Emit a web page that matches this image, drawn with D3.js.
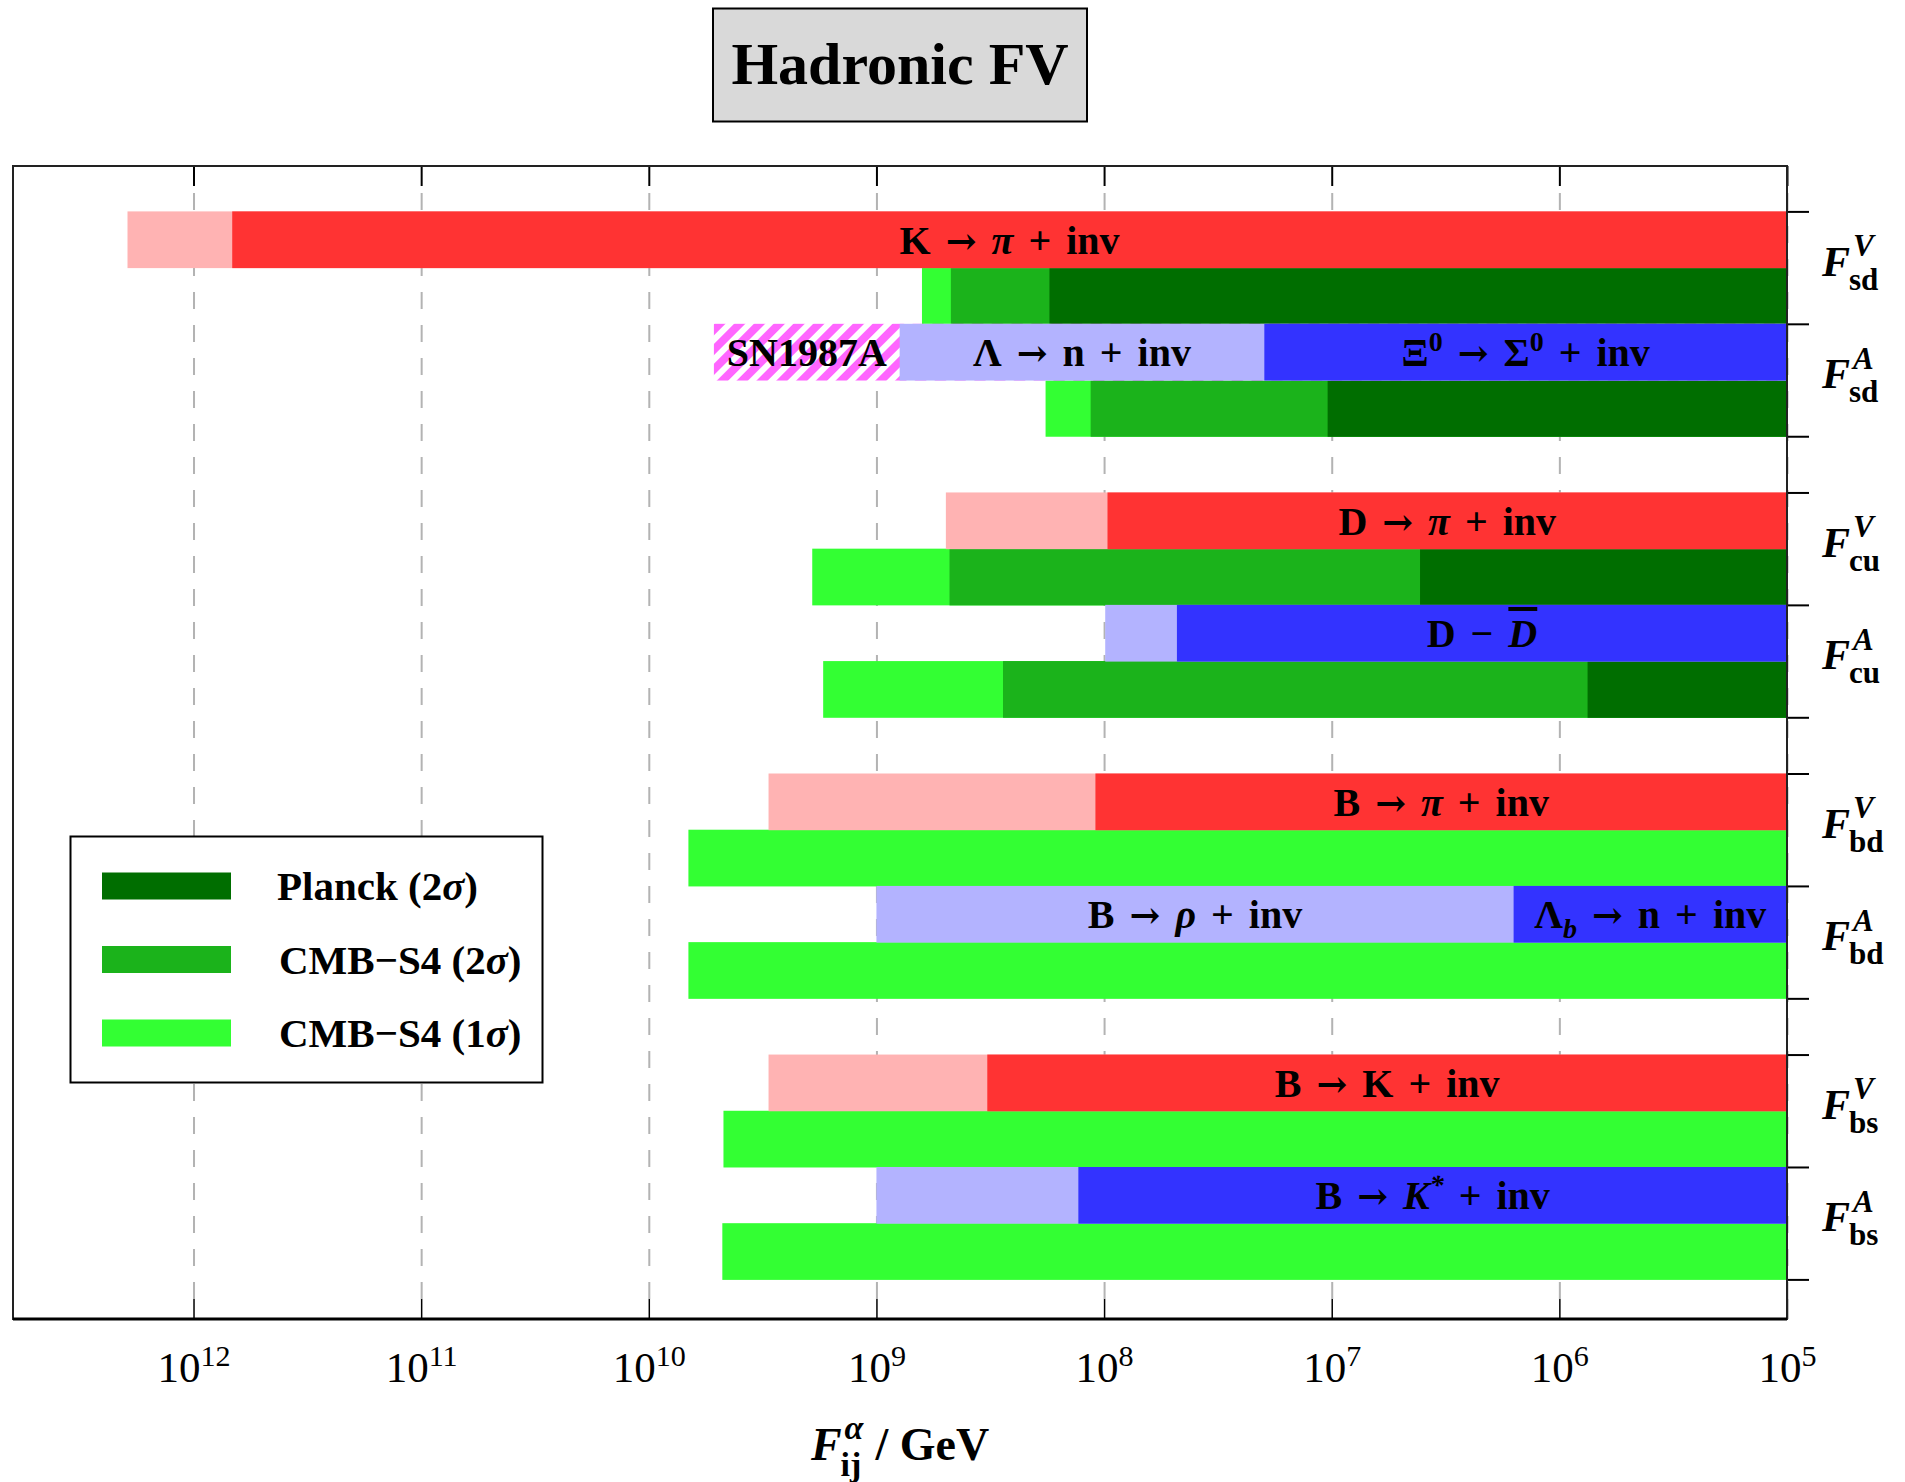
<!DOCTYPE html>
<html>
<head>
<meta charset="utf-8">
<script src="https://cdn.jsdelivr.net/npm/d3@7"></script>
<style>
  body { margin: 0; background: #fff; }
  text { font-family: "Liberation Serif", "Times New Roman", serif; white-space: pre; }
</style>
</head>
<body>
<div id="chart"></div>
<script>
// ---- data (log10 of F / GeV) ----
const LOG_LEFT = 12.793;
const LOG_RIGHT = 5;
const tickPowers = [12, 11, 10, 9, 8, 7, 6, 5];
const flavours = ["sd", "cu", "bd", "bs"];
const chiralities = ["V", "A"];

// experimental / astrophysical lower edges : [coupling, log10 F, tone, label id]
const probeBounds = [
  ["V_sd", 12.29, "redLight", null],
  ["V_sd", 11.83, "red", "kpi"],
  ["A_sd", 9.714, "sn", "sn"],
  ["A_sd", 8.898, "blueLight", "lamn"],
  ["A_sd", 7.296, "blue", "xisig"],
  ["V_cu", 8.695, "redLight", null],
  ["V_cu", 7.985, "red", "dpi"],
  ["A_cu", 7.995, "blueLight", null],
  ["A_cu", 7.68, "blue", "ddbar"],
  ["V_bd", 9.474, "redLight", null],
  ["V_bd", 8.038, "red", "bpi"],
  ["A_bd", 9.0, "blueLight", "brho"],
  ["A_bd", 6.201, "blue", "lambn"],
  ["V_bs", 9.474, "redLight", null],
  ["V_bs", 8.513, "red", "bk"],
  ["A_bs", 9.0, "blueLight", null],
  ["A_bs", 8.113, "blue", "bkstar"]
];

// cosmology lower edges : [coupling, log10 F, tone]
const cosmoBounds = [
  ["V_sd", 8.80, "s4_1"], ["V_sd", 8.673, "s4_2"], ["V_sd", 8.24, "planck"],
  ["A_sd", 8.257, "s4_1"], ["A_sd", 8.059, "s4_2"], ["A_sd", 7.018, "planck"],
  ["V_cu", 9.282, "s4_1"], ["V_cu", 8.679, "s4_2"], ["V_cu", 6.612, "planck"],
  ["A_cu", 9.234, "s4_1"], ["A_cu", 8.444, "s4_2"], ["A_cu", 5.876, "planck"],
  ["V_bd", 9.826, "s4_1"],
  ["A_bd", 9.826, "s4_1"],
  ["V_bs", 9.672, "s4_1"],
  ["A_bs", 9.677, "s4_1"]
];

// label pieces: [text, flags]  i=italic ^=sup _=sub o=overline
const probeLabels = {
  kpi: [["K → "], ["π", "i"], [" + inv"]],
  sn: [["SN1987A"]],
  lamn: [["Λ → n + inv"]],
  xisig: [["Ξ"], ["0", "^"], [" → Σ"], ["0", "^"], [" + inv"]],
  dpi: [["D → "], ["π", "i"], [" + inv"]],
  ddbar: [["D − "], ["D", "io"]],
  bpi: [["B → "], ["π", "i"], [" + inv"]],
  brho: [["B → "], ["ρ", "i"], [" + inv"]],
  lambn: [["Λ"], ["b", "i_"], [" → n + inv"]],
  bk: [["B → K + inv"]],
  bkstar: [["B → "], ["K", "i"], ["*", "i^"], [" + inv"]]
};

const legendItems = [
  ["planck", [["Planck (2"], ["σ", "i"], [")"]]],
  ["s4_2", [["CMB−S4 (2"], ["σ", "i"], [")"]]],
  ["s4_1", [["CMB−S4 (1"], ["σ", "i"], [")"]]]
];

const TONES = {
  red: "#ff3333", redLight: "#ffb3b3",
  blue: "#3333ff", blueLight: "#b3b3ff",
  sn: "url(#snHatch)",
  planck: "#006e00", s4_2: "#1bb31b", s4_1: "#33ff33"
};

// ---- layout ----
const width = 1905, height = 1482;
const X_LEFT = 13, X_RIGHT = 1787, Y_TOP = 166, Y_BOTTOM = 1319;
const SLOTS = 19;

const svg = d3.select("#chart").append("svg")
  .attr("width", width).attr("height", height);

const defs = svg.append("defs");
const pat = defs.append("pattern")
  .attr("id", "snHatch")
  .attr("patternUnits", "userSpaceOnUse")
  .attr("width", 14).attr("height", 14)
  .attr("patternTransform", "rotate(45)");
pat.append("rect").attr("width", 14).attr("height", 14).attr("fill", "#ff66ff");
pat.append("rect").attr("width", 6).attr("height", 14).attr("fill", "#fff");

const x = d3.scaleLog()
  .domain([Math.pow(10, LOG_LEFT), Math.pow(10, LOG_RIGHT)])
  .range([X_LEFT, X_RIGHT]);

const y = d3.scaleLinear().domain([0, SLOTS]).range([211.4, 1279.4]);
const slotH = y(1) - y(0);

// coupling key -> slot of the probe row (cosmology row is the next one)
const slotOf = {};
flavours.forEach((f, fi) => chiralities.forEach((c, ci) => {
  slotOf[c + "_" + f] = fi * 5 + ci * 2;
}));

// pad = extra room around →, +, − (TeX-like math spacing)
function addRich(sel, parts, size, pad = 0) {
  let shift = 0;
  let nextDx = 0;
  parts.forEach(([t, f = ""]) => {
    const small = f.includes("^") || f.includes("_");
    const target = f.includes("^") ? -0.38 * size : f.includes("_") ? 0.24 * size : 0;
    const tokens = pad ? t.split(/(→|\+|−)/).filter(s => s !== "") : [t];
    tokens.forEach((tok, k) => {
      const isOp = pad && /^(→|\+|−)$/.test(tok);
      const ts = sel.append("tspan").text(tok);
      if (k === 0) { ts.attr("dy", target - shift); shift = target; }
      if (isOp) {
        ts.attr("dx", pad);
        nextDx = pad;
        if (tok === "→") ts.attr("font-family", "DejaVu Serif").attr("font-size", 0.92 * size);
      } else if (nextDx) {
        ts.attr("dx", nextDx);
        nextDx = 0;
      }
      if (small) ts.attr("font-size", 0.7 * size);
      if (f.includes("i")) ts.attr("font-style", "italic");
      if (f.includes("o")) ts.style("text-decoration", "overline");
    });
  });
}

// ---- dashed grid ----
svg.append("g")
  .attr("transform", `translate(0,${Y_BOTTOM - 20})`)
  .call(d3.axisBottom(x).tickValues(tickPowers.map(p => Math.pow(10, p)))
    .tickSize(-(Y_BOTTOM - Y_TOP - 40)).tickFormat(""))
  .call(g => g.select(".domain").remove())
  .call(g => g.selectAll("line")
    .attr("stroke", "#b3b3b3").attr("stroke-width", 2)
    .attr("stroke-dasharray", "17,16"));

// ---- bars ----
function drawRows(bounds, hasLabels, rowOffset) {
  const rows = d3.group(bounds, d => d[0]);
  rows.forEach((segs, key) => {
    const slot = slotOf[key] + rowOffset;
    const sorted = segs.slice().sort((a, b) => b[1] - a[1]);
    sorted.forEach((s, i) => {
      const x0 = x(Math.pow(10, s[1]));
      svg.append("rect")
        .attr("x", x0).attr("y", y(slot))
        .attr("width", X_RIGHT - x0).attr("height", slotH + 0.5)
        .attr("fill", TONES[s[2]]);
    });
    if (!hasLabels) return;
    sorted.forEach((s, i) => {
      if (!s[3]) return;
      const x0 = x(Math.pow(10, s[1]));
      const x1 = i + 1 < sorted.length ? x(Math.pow(10, sorted[i + 1][1])) : X_RIGHT;
      const t = svg.append("text")
        .attr("x", (x0 + x1) / 2)
        .attr("y", y(slot) + slotH / 2 + 14)
        .attr("text-anchor", "middle")
        .attr("font-size", 40).attr("font-weight", "bold");
      addRich(t, probeLabels[s[3]], 40, 5);
    });
  });
}
drawRows(cosmoBounds, false, 1);
drawRows(probeBounds, true, 0);

// ---- frame, ticks ----
svg.append("g")
  .attr("transform", `translate(0,${Y_TOP})`)
  .call(d3.axisTop(x).tickValues(tickPowers.map(p => Math.pow(10, p)))
    .tickSize(-20).tickFormat(""))
  .call(g => g.select(".domain").remove())
  .call(g => g.selectAll("line").attr("stroke", "#000").attr("stroke-width", 2));

const bottomAxis = svg.append("g")
  .attr("transform", `translate(0,${Y_BOTTOM})`)
  .call(d3.axisBottom(x).tickValues(tickPowers.map(p => Math.pow(10, p)))
    .tickSize(-20).tickFormat(""))
  .call(g => g.select(".domain").remove())
  .call(g => g.selectAll("line").attr("stroke", "#000").attr("stroke-width", 1.5));

bottomAxis.selectAll(".tick").each(function (d) {
  const t = d3.select(this).append("text")
    .attr("x", 0).attr("y", 63)
    .attr("text-anchor", "middle")
    .attr("fill", "#000")
    .attr("font-size", 43);
  addRich(t, [["10"], [String(Math.round(Math.log10(d))), "^"]], 43);
});

// right axis ticks at coupling boundaries
const boundarySlots = [];
flavours.forEach((f, fi) => { boundarySlots.push(fi * 5, fi * 5 + 2, fi * 5 + 4); });
svg.append("g")
  .attr("transform", `translate(${X_RIGHT},0)`)
  .call(d3.axisRight(y).tickValues(boundarySlots).tickSize(22).tickFormat(""))
  .call(g => g.select(".domain").remove())
  .call(g => g.selectAll("line").attr("stroke", "#000").attr("stroke-width", 2));

svg.append("rect")
  .attr("x", X_LEFT).attr("y", Y_TOP)
  .attr("width", X_RIGHT - X_LEFT).attr("height", Y_BOTTOM - Y_TOP)
  .attr("fill", "none").attr("stroke", "#222").attr("stroke-width", 2);
svg.append("line")
  .attr("x1", X_LEFT).attr("x2", X_RIGHT).attr("y1", Y_BOTTOM).attr("y2", Y_BOTTOM)
  .attr("stroke", "#000").attr("stroke-width", 3);

// ---- coupling labels on the right ----
function stacked(g, x0, yb, base, sup, sub, size, supItalic, subItalic) {
  const b = g.append("text").attr("x", x0).attr("y", yb)
    .attr("font-size", size).attr("font-weight", "bold").attr("font-style", "italic")
    .text(base);
  const w = b.node().getComputedTextLength();
  const s1 = g.append("text").attr("x", x0 + w + 3).attr("y", yb - 0.46 * size)
    .attr("font-size", 0.74 * size).attr("font-weight", "bold")
    .attr("font-style", supItalic ? "italic" : "normal").text(sup);
  const s2 = g.append("text").attr("x", x0 + w - 1).attr("y", yb + 0.34 * size)
    .attr("font-size", 0.74 * size).attr("font-weight", "bold")
    .attr("font-style", subItalic ? "italic" : "normal").text(sub);
  return x0 + w + Math.max(s1.node().getComputedTextLength() + 3, s2.node().getComputedTextLength() - 1);
}

const labelG = svg.append("g");
Object.keys(slotOf).forEach(key => {
  const [c, f] = key.split("_");
  const mid = y(slotOf[key] + 1);
  stacked(labelG, 1822, mid + 8, "F", c, f, 42, true, false);
});

// ---- x-axis title ----
const titleG = svg.append("g");
const endX = stacked(titleG, 0, 1460, "F", "α", "ij", 46, true, false);
const rest = titleG.append("text").attr("x", endX + 12).attr("y", 1460)
  .attr("font-size", 46).attr("font-weight", "bold").text("/ GeV");
const totalW = endX + 12 + rest.node().getComputedTextLength();
titleG.attr("transform", `translate(${(X_LEFT + X_RIGHT) / 2 - totalW / 2},0)`);

// ---- legend ----
const leg = svg.append("g");
leg.append("rect")
  .attr("x", 70.5).attr("y", 836.5).attr("width", 472).attr("height", 246)
  .attr("fill", "#fff").attr("stroke", "#000").attr("stroke-width", 2);
legendItems.forEach(([tone, parts], i) => {
  const cy = 886 + i * 73.5;
  leg.append("rect")
    .attr("x", 102).attr("y", cy - 13.5).attr("width", 129).attr("height", 27)
    .attr("fill", TONES[tone]);
  const t = leg.append("text")
    .attr("x", 277 + (i > 0 ? 2 : 0)).attr("y", cy + 14)
    .attr("font-size", 41).attr("font-weight", "bold");
  addRich(t, parts, 41);
});

// ---- title box ----
svg.append("rect")
  .attr("x", 713).attr("y", 8.5).attr("width", 374).attr("height", 113)
  .attr("fill", "#d9d9d9").attr("stroke", "#000").attr("stroke-width", 2);
svg.append("text")
  .attr("x", 900).attr("y", 84)
  .attr("text-anchor", "middle")
  .attr("font-size", 60).attr("font-weight", "bold")
  .text("Hadronic FV");
</script>
</body>
</html>
